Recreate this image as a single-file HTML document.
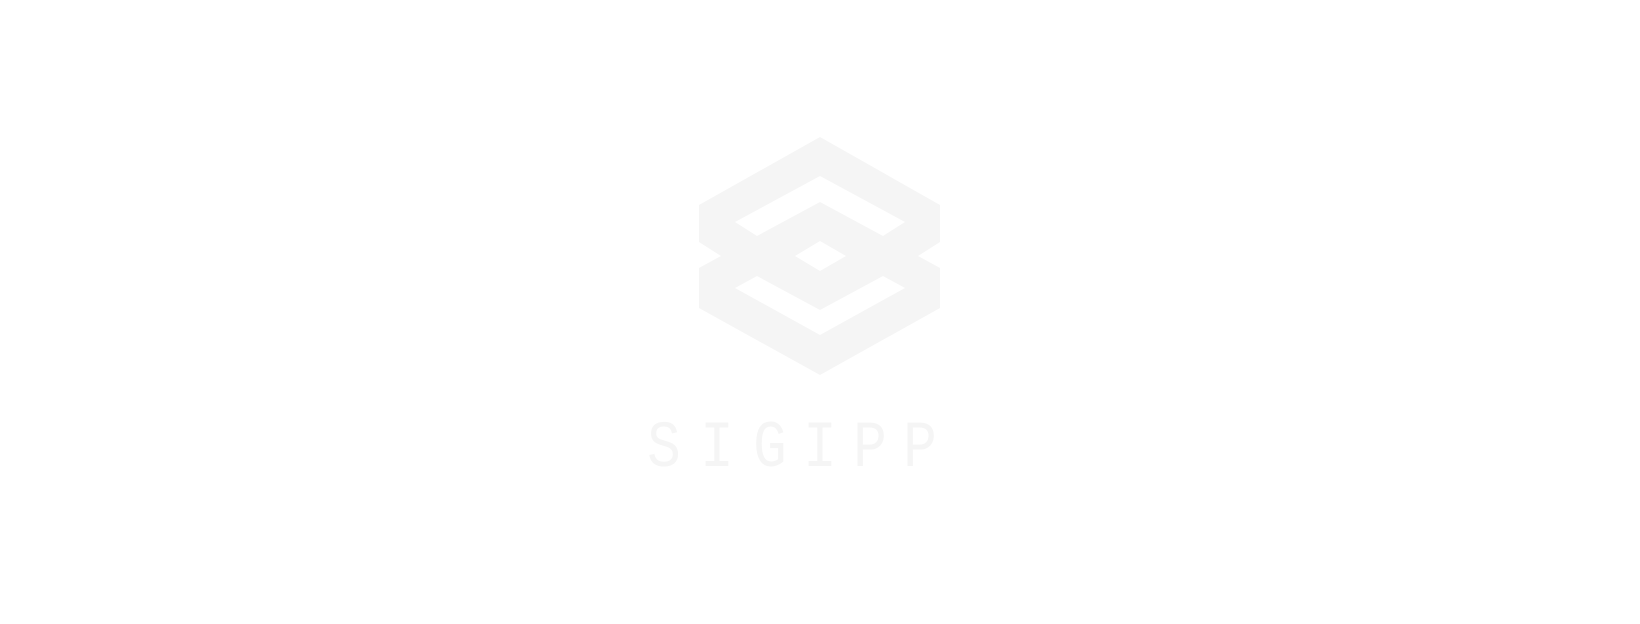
<!DOCTYPE html>
<html><head><meta charset="utf-8"><style>
html,body{margin:0;padding:0;background:#fff;}
svg{display:block}
</style></head><body>
<svg width="1640" height="624" viewBox="0 0 1640 624">
<g fill="#f5f5f5" fill-rule="evenodd">
<path d="M820,137 L940,205 L940,242 L918,256 L940,268 L940,308 L820,375 L699,308 L699,268 L721,256 L699,242 L699,205 Z
M820,176 L735,222 L757,236 L820,202 L883,236 L905,222 Z
M820,241 L795,256 L820,271 L846,256 Z
M757,276 L735,288 L820,335 L905,288 L883,276 L820,310 Z"/>
</g>
<g fill="#f5f5f5" font-family="'Liberation Mono', monospace" font-size="66" text-anchor="middle">
<text x="664" y="466" transform="translate(664 0) scale(0.85 1) translate(-664 0)">S</text>
<text x="717" y="466" transform="translate(717 0) scale(0.85 1) translate(-717 0)">I</text>
<text x="770" y="466" transform="translate(770 0) scale(0.85 1) translate(-770 0)">G</text>
<text x="820" y="466" transform="translate(820 0) scale(0.85 1) translate(-820 0)">I</text>
<text x="870" y="466" transform="translate(870 0) scale(0.85 1) translate(-870 0)">P</text>
<text x="920" y="466" transform="translate(920 0) scale(0.85 1) translate(-920 0)">P</text>
</g>
</svg>
</body></html>
